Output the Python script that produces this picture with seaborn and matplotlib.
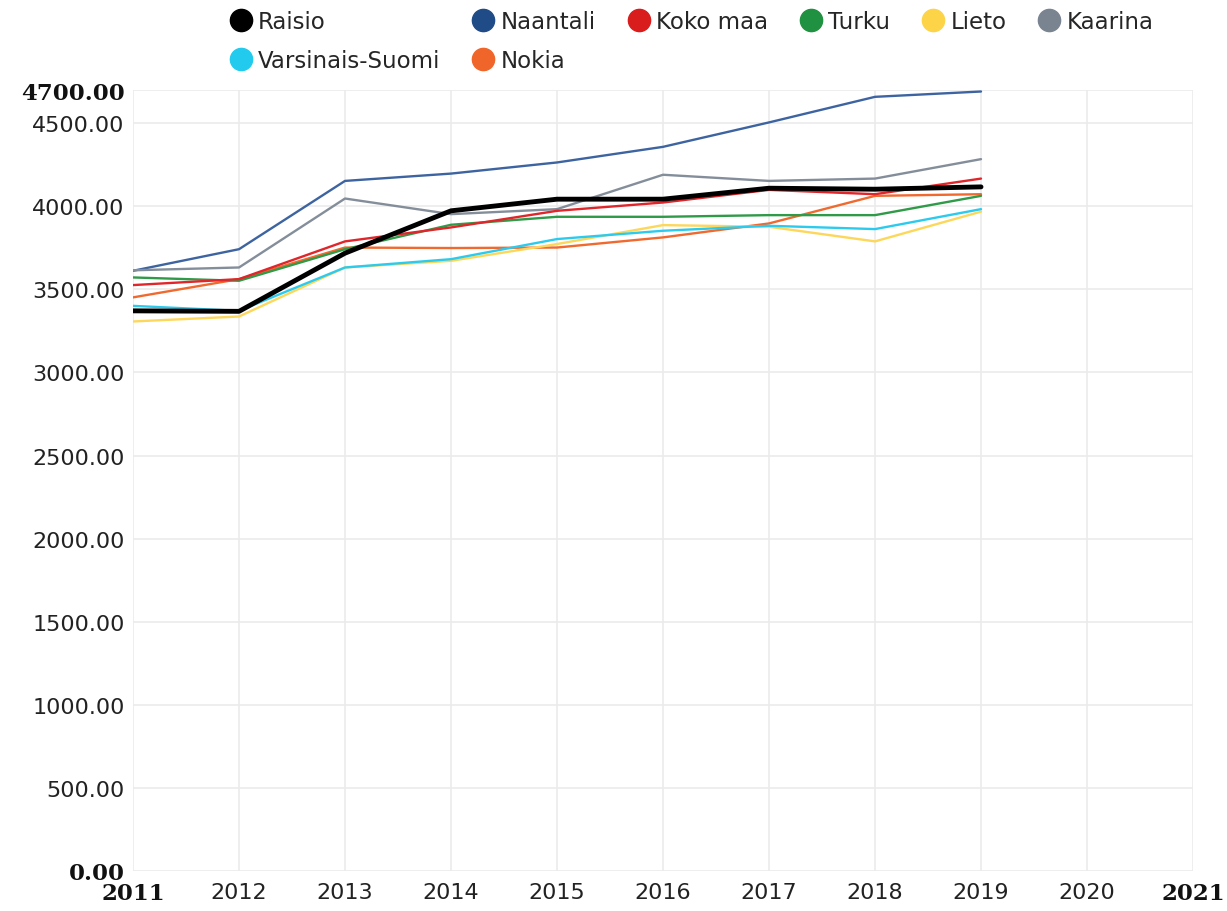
import seaborn as sns
import matplotlib.pyplot as plt
from matplotlib.lines import Line2D
import pandas as pd

years = [2011, 2012, 2013, 2014, 2015, 2016, 2017, 2018, 2019]

raisio = [3371, 3368, 3718, 3973, 4043, 4043, 4109, 4103, 4117]
naantali = [3612, 3742, 4153, 4197, 4264, 4358, 4505, 4659, 4691]
koko_maa = [3526, 3562, 3789, 3873, 3973, 4023, 4099, 4073, 4167]
turku = [3572, 3552, 3742, 3889, 3937, 3937, 3947, 3947, 4063]
lieto = [3307, 3337, 3632, 3672, 3773, 3887, 3877, 3789, 3968]
kaarina = [3615, 3632, 4047, 3953, 3983, 4190, 4153, 4167, 4284]
varsinais_suomi = [3401, 3371, 3632, 3682, 3803, 3853, 3883, 3863, 3983]
nokia = [3452, 3562, 3752, 3749, 3752, 3813, 3897, 4063, 4073]

series = {
    "Naantali": naantali,
    "Kaarina": kaarina,
    "Nokia": nokia,
    "Lieto": lieto,
    "Varsinais-Suomi": varsinais_suomi,
    "Turku": turku,
    "Koko maa": koko_maa,
    "Raisio": raisio,
}
line_colors = {
    "Raisio": "#000000",
    "Naantali": "#3d64a0",
    "Koko maa": "#e0262a",
    "Turku": "#2f9a48",
    "Lieto": "#fdd75a",
    "Kaarina": "#848e9a",
    "Varsinais-Suomi": "#2ccbee",
    "Nokia": "#f06a30",
}
legend_colors = {
    "Raisio": "#000000",
    "Naantali": "#1f4b87",
    "Koko maa": "#d91c1c",
    "Turku": "#1f9140",
    "Lieto": "#fdd448",
    "Kaarina": "#7a8491",
    "Varsinais-Suomi": "#22cbee",
    "Nokia": "#f0652a",
}
# order so the legend reads row by row
legend_order = ["Raisio", "Varsinais-Suomi", "Naantali", "Nokia",
                "Koko maa", "Turku", "Lieto", "Kaarina"]

y_ticks = [0, 500, 1000, 1500, 2000, 2500, 3000, 3500, 4000, 4500, 4700]
x_ticks = list(range(2011, 2022))

sns.set_style("white")
plt.rcParams['font.family'] = ['DejaVu Sans']

fig = plt.figure(figsize=(12.27, 9.12), dpi=100)
ax = fig.add_axes([0.1084, 0.0439, 0.8639, 0.8563])

for name, vals in series.items():
    sns.lineplot(x=years, y=vals, color=line_colors[name],
                 linewidth=3.5 if name == "Raisio" else 1.7, ax=ax, zorder=3)

ax.set_xlim(2011, 2021)
ax.set_ylim(0, 4700)
ax.set_xticks(x_ticks)
ax.set_yticks(y_ticks)
ax.set_yticklabels(["{:.2f}".format(v) for v in y_ticks])
ax.set_xticklabels([str(v) for v in x_ticks])
ax.grid(True, color="#ebebeb", linewidth=1.2)
for s in ax.spines.values():
    s.set_visible(False)
ax.tick_params(axis="both", length=0, labelsize=16, colors="#222222")
ax.tick_params(axis="x", pad=8)
ax.tick_params(axis="y", pad=6)

for lab in [ax.get_yticklabels()[0], ax.get_yticklabels()[-1],
            ax.get_xticklabels()[0], ax.get_xticklabels()[-1]]:
    lab.set_fontfamily("DejaVu Serif")
    lab.set_fontweight("bold")
    lab.set_fontsize(16.5)
    lab.set_color("#111111")

handles = [Line2D([], [], marker="o", linestyle="", markersize=16,
                  markerfacecolor=legend_colors[n], markeredgecolor=legend_colors[n])
           for n in legend_order]
fig.legend(handles, legend_order, loc="upper left", bbox_to_anchor=(0.168, 1.011),
           ncol=6, frameon=False, fontsize=16.5, handletextpad=0.15,
           columnspacing=1.28, labelspacing=0.7, handlelength=1.2)

fig.savefig("out.png", dpi=100)
